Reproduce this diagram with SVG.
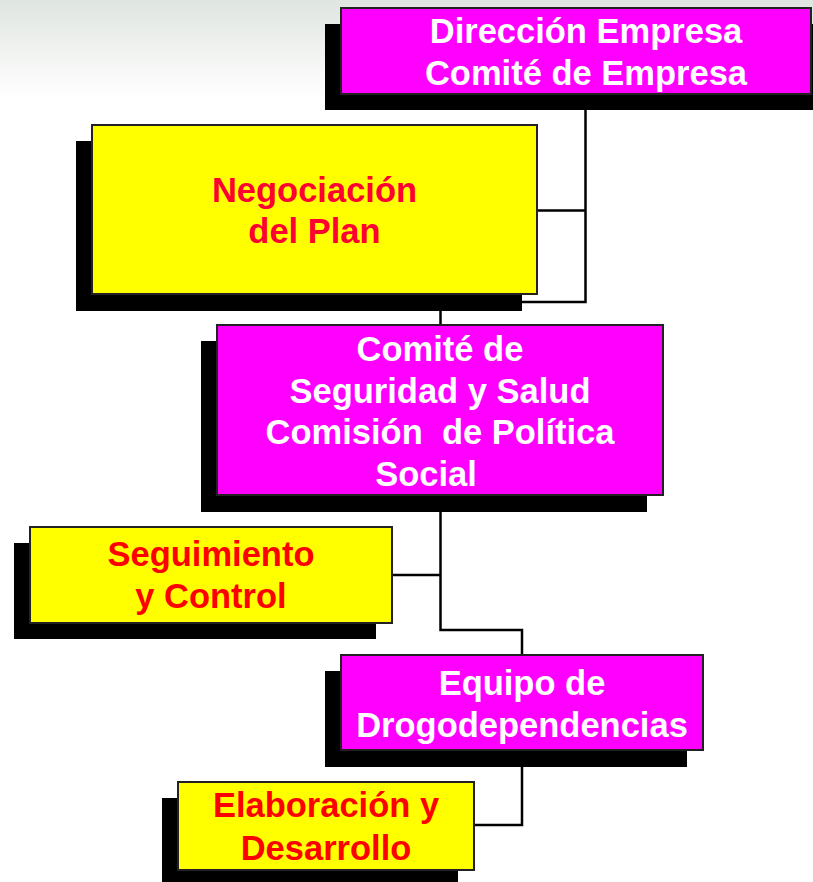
<svg xmlns="http://www.w3.org/2000/svg" width="813" height="882" viewBox="0 0 813 882">
<defs>
<linearGradient id="bg" x1="0" y1="0" x2="0" y2="1">
<stop offset="0" stop-color="#dfe5e1"/>
<stop offset="0.55" stop-color="#f2f4f2"/>
<stop offset="1" stop-color="#ffffff"/>
</linearGradient>
<style>
.shadow{fill:#000}
.mag{fill:#ff00ff;stroke:#222;stroke-width:2}
.yel{fill:#ffff00;stroke:#222;stroke-width:2}
.tw{fill:#ffffff;font-family:"Liberation Sans",Arial,sans-serif;font-weight:bold;font-size:34.5px;text-anchor:middle}
.tr{fill:#ff0000;font-family:"Liberation Sans",Arial,sans-serif;font-weight:bold;font-size:34.5px;text-anchor:middle}
.conn{fill:none;stroke:#000;stroke-width:2.5}
</style>
</defs>
<rect x="0" y="0" width="813" height="882" fill="#ffffff"/>
<rect x="0" y="0" width="813" height="100" fill="url(#bg)"/>
<g id="connectors">
<path class="conn" d="M585.5,110 V302 H440.5 V324"/>
<path class="conn" d="M537,210.5 H585.5"/>
<path class="conn" d="M440.5,512 V630 H522 V655"/>
<path class="conn" d="M392,575 H440.5"/>
<path class="conn" d="M522,767 V825 H474"/>
</g>
<g id="direccion">
<rect class="shadow" x="325" y="24" width="490" height="86"/>
<rect class="mag" x="341" y="8" width="470" height="86"/>
<text class="tw" x="586" y="43">Dirección Empresa</text>
<text class="tw" x="586" y="85">Comité de Empresa</text>
</g>
<g id="negociacion">
<rect class="shadow" x="76" y="141" width="446" height="170"/>
<rect class="yel" x="92" y="125" width="445" height="169"/>
<text class="tr" x="314.5" y="202" style="fill:#ff0033">Negociación</text>
<text class="tr" x="314.5" y="243" style="fill:#ff0033">del Plan</text>
</g>
<g id="comite">
<rect class="shadow" x="201" y="341" width="446" height="171"/>
<rect class="mag" x="217" y="325" width="446" height="170"/>
<text class="tw" x="440" y="361">Comité de</text>
<text class="tw" x="440" y="403">Seguridad y Salud</text>
<text class="tw" x="440" y="444" xml:space="preserve">Comisión  de Política</text>
<text class="tw" x="426" y="486">Social</text>
</g>
<g id="seguimiento">
<rect class="shadow" x="14" y="543" width="362" height="96"/>
<rect class="yel" x="30" y="527" width="362" height="96"/>
<text class="tr" x="211" y="566">Seguimiento</text>
<text class="tr" x="211" y="608">y Control</text>
</g>
<g id="equipo">
<rect class="shadow" x="325" y="671" width="362" height="96"/>
<rect class="mag" x="341" y="655" width="362" height="95"/>
<text class="tw" x="522" y="695">Equipo de</text>
<text class="tw" x="522" y="737">Drogodependencias</text>
</g>
<g id="elaboracion">
<rect class="shadow" x="162" y="798" width="296" height="90"/>
<rect class="yel" x="178" y="782" width="296" height="88"/>
<text class="tr" x="326" y="817">Elaboración y</text>
<text class="tr" x="326" y="860">Desarrollo</text>
</g>
</svg>
